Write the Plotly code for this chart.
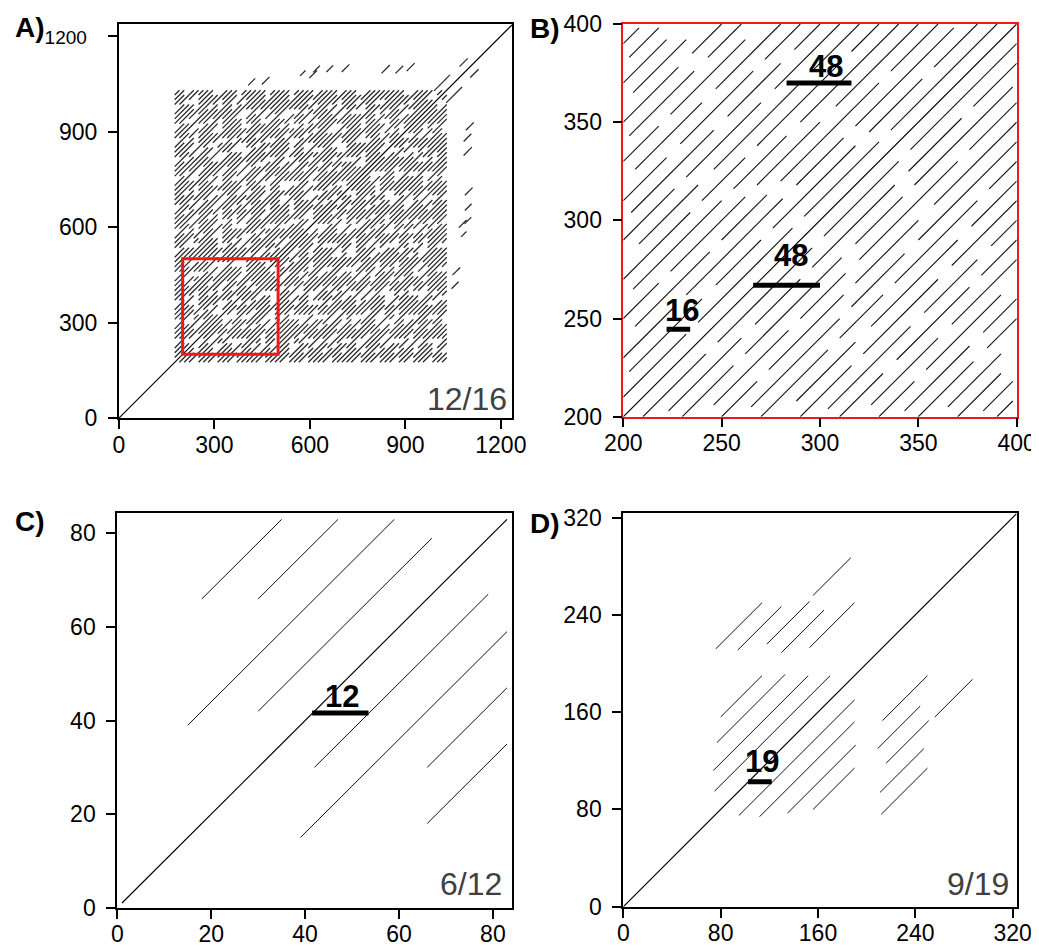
import plotly.graph_objects as go

FONT = "Liberation Sans, Arial, sans-serif"

# ---------------- Panel A : full self dot plot ----------------
A_ticks = [0, 300, 600, 900, 1200]
A_tick_text = ["0", "300", "600", "900", '<span style="font-size:19px">1200&nbsp;&nbsp;</span>']
A_xtick_text = ["0", "300", "600", "900", "1200"]
A_range_x = [0, 1235]
A_range_y = [0, 1238]
A_diag = [0, 1235]
A_block_start = 175
A_cell = 15
A_offsets = [15, 30, 45, 60, 75, 90, 105, 120, 135, 150, 165, 180, 195, 210, 225, 240,
             255, 270, 285, 300, 315, 330, 345, 360, 375, 390, 405, 420, 435, 450, 465,
             480, 495, 510, 525, 540, 555, 570, 585, 600, 615, 630, 645, 660, 675, 690,
             705, 720, 735, 750, 765, 780, 795, 810, 825, 840]
A_rows = [
    "###..|####.|##.##|.###.|#####|##..#|###.#|.####|###..|##.##|####.|#",
    "##.##|###..|.####|####.|##..#|###.#|#.###|.###.|####.|##.##|###..",
    "####.|.###.|##.##|###.#|.####|##..#|####.|###..|#####|.###.|####",
    ".####|##.##|###..|#####|#.###|.###.|##.##|####.|###.#|##..#|###",
    "###.#|.###.|####.|##..#|###..|#####|.####|##.##|###..|####.|##",
    "##..#|####.|.###.|#####|##.##|###..|####.|#.###|.###.|##.##|#",
    "####.|##.##|###..|.####|####.|##..#|#####|.###.|###.#|####.",
    ".###.|#####|##..#|###.#|.###.|####.|##.##|###..|####.|###.",
    "###..|##.##|#####|.###.|####.|##..#|###.#|.####|##.##|###",
    "####.|###..|.####|##.##|#####|###..|####.|.###.|##.##|##",
    "##.##|####.|###..|.####|##..#|#####|.###.|####.|###.#|#",
    ".####|##..#|####.|###..|##.##|.####|###..|#####|##.##",
    "###.#|.###.|##.##|####.|###..|##.##|#####|.###.|####",
    "####.|##.##|.###.|#####|##..#|###.#|.####|###..|###",
    "##..#|####.|###..|.####|##.##|####.|###..|##.##|##",
    "#####|.###.|##.##|###..|####.|.####|##..#|###.#|#",
    "###..|####.|##.##|.###.|#####|##..#|####.|.###.",
    ".####|###..|##.##|####.|.###.|##.##|#####|###.",
    "##.##|#####|.###.|###.#|##..#|####.|###..|###",
    "####.|###..|##.##|.####|###..|##.##|####.|##",
    "###.#|.###.|#####|##..#|####.|.###.|##.##|#",
    "##..#|####.|###..|#####|.###.|##.##|####.",
    ".###.|##.##|####.|###..|#####|##..#|####",
    "####.|###..|.####|##.##|###.#|.###.|###",
    "##.##|#####|###..|.###.|####.|##.##|##",
    "###..|####.|##.##|#####|.###.|###.#|#",
    ".####|##..#|###..|####.|##.##|.###.",
    "####.|.###.|#####|##.##|###..|####",
    "##.##|###..|####.|.####|##..#|###",
    "###.#|####.|.###.|##.##|#####|##",
    "####.|##.##|###..|####.|.###.|#",
    ".###.|#####|##..#|###.#|####.",
    "##.##|####.|.###.|###..|####",
    "####.|###..|##.##|.####|###",
    "###..|.####|####.|##.##|##",
    "#####|##..#|.###.|####.|#",
    "##.##|###..|####.|.###.",
    ".####|##.##|###..|####",
    "####.|.###.|#####|###",
    "##.##|###..|####.|##",
    "###..|####.|##.##|#",
    ".###.|#####|##..#",
    "####.|##.##|###.",
    "##.##|.###.|###",
    "###..|####.|##",
    ".####|##.##|#",
    "###..|####.",
    "##.##|###.",
    ".###.|###",
    "####.|##",
    "###..|#",
    "##.##",
    ".###",
    "##.",
    "##",
    "#",
]
A_extra_x0 = [406, 449, 569, 598, 610, 652, 700, 825, 869, 904, 990, 1070]
A_extra_y0 = [1045, 1048, 1075, 1068, 1086, 1087, 1087, 1083, 1083, 1090, 1028, 1104]
A_extra_len = [22, 24, 17, 24, 21, 21, 24, 26, 24, 25, 50, 26]
A_zoom_box = [200, 500]
A_ratio = "12/16"

# ---------------- Panel B : zoomed region ----------------
B_ticks = [200, 250, 300, 350, 400]
B_range = [200, 400]
B_diag = [200, 400]
B_offsets = [10, 20, 30, 40, 50, 60, 70, 80, 90, 100, 110, 120, 130, 140, 150, 160, 170, 180, 190]
B_segs = [
    [(200, 232), (238, 286), (292, 330), (336, 390)],
    [(203, 240), (247, 270), (276, 318), (325, 352), (358, 380)],
    [(200, 226), (232, 281), (288, 312), (318, 368)],
    [(206, 244), (250, 273), (280, 330), (336, 360)],
    [(200, 218), (224, 262), (268, 300), (308, 350)],
    [(205, 250), (256, 283), (290, 340)],
    [(200, 234), (240, 262), (268, 310), (316, 330)],
    [(208, 238), (246, 290), (297, 320)],
    [(200, 226), (232, 270), (277, 310)],
    [(204, 246), (253, 280), (287, 300)],
    [(200, 222), (229, 266), (272, 290)],
    [(206, 240), (247, 280)],
    [(200, 218), (224, 262)],
    [(203, 236), (243, 260)],
    [(200, 228), (235, 250)],
    [(205, 232)],
    [(200, 222)],
    [(203, 218)],
    [(200, 208)],
]
B_bar_x0 = [222, 266, 283]
B_bar_x1 = [234, 300, 316]
B_bar_y = [244.5, 267, 370]
B_lab_x = [229.6, 285.5, 303.3]
B_lab_y = [254.3, 282.3, 378.5]
B_lab_text = ["16", "48", "48"]

# ---------------- Panel C ----------------
C_ticks = [0, 20, 40, 60, 80]
C_range_x = [0, 84]
C_range_y = [0, 84.3]
C_diag = [1, 83]
C_x0 = [18, 30, 15, 30, 66, 66, 39, 42]
C_y0 = [66, 66, 39, 42, 18, 30, 15, 30]
C_len = [17, 17, 44, 37, 17, 17, 44, 37]
C_bar = [41.5, 53.5, 41.6]
C_lab = [47.9, 45.1, "12"]
C_ratio = "6/12"

# ---------------- Panel D ----------------
D_ticks = [0, 80, 160, 240, 320]
D_range_x = [0, 323.3]
D_range_y = [0, 323.5]
D_diag = [0, 323]
D_x0 = [156, 76, 94, 118, 130, 153, 80, 77, 74, 75,
        95, 112, 135, 156, 213, 209, 216, 211, 212, 256]
D_y0 = [256, 212, 211, 216, 209, 213, 156, 135, 112, 95,
        75, 74, 77, 80, 153, 130, 118, 94, 76, 156]
D_len = [31, 38, 36, 35, 35, 37, 34, 56, 78, 95,
         95, 78, 56, 34, 37, 35, 35, 36, 38, 31]
D_bar = [102.5, 122, 102.8]
D_lab = [114.0, 119.3, "19"]
D_ratio = "9/19"

PANEL_LETTERS = ["A)", "B)", "C)", "D)"]


# ---------------- helpers ----------------
def add_seg(xs, ys, x0, y0, x1, y1):
    xs += [x0, x1, None]
    ys += [y0, y1, None]


def build_A():
    xs, ys = [], []
    for d, row in zip(A_offsets, A_rows):
        s = row.replace("|", "")
        c = 0
        while c < len(s):
            if s[c] == "#":
                c0 = c
                while c < len(s) and s[c] == "#":
                    c += 1
                x0 = A_block_start + A_cell * c0
                x1 = A_block_start + A_cell * c
                add_seg(xs, ys, x0, x0 + d, x1, x1 + d)
                add_seg(xs, ys, x0 + d, x0, x1 + d, x1)
            else:
                c += 1
    for x0, y0, L in zip(A_extra_x0, A_extra_y0, A_extra_len):
        add_seg(xs, ys, x0, y0, x0 + L, y0 + L)
        add_seg(xs, ys, y0, x0, y0 + L, x0 + L)
    return xs, ys


def build_B():
    xs, ys = [], []
    for d, segs in zip(B_offsets, B_segs):
        for x0, x1 in segs:
            add_seg(xs, ys, x0, x0 + d, x1, x1 + d)
            add_seg(xs, ys, x0 + d, x0, x1 + d, x1)
    return xs, ys


def build_list(x0s, y0s, lens):
    xs, ys = [], []
    for x0, y0, L in zip(x0s, y0s, lens):
        add_seg(xs, ys, x0, y0, x0 + L, y0 + L)
    return xs, ys


fig = go.Figure()

ax, ay = build_A()
fig.add_trace(go.Scatter(x=ax, y=ay, mode="lines", line=dict(color="#262626", width=1.25),
                         xaxis="x", yaxis="y", hoverinfo="skip"))
fig.add_trace(go.Scatter(x=A_diag, y=A_diag, mode="lines", line=dict(color="black", width=1.2),
                         xaxis="x", yaxis="y", hoverinfo="skip"))

bx, by = build_B()
fig.add_trace(go.Scatter(x=bx, y=by, mode="lines", line=dict(color="#111", width=1.1),
                         xaxis="x2", yaxis="y2", hoverinfo="skip"))
fig.add_trace(go.Scatter(x=B_diag, y=B_diag, mode="lines", line=dict(color="black", width=1.2),
                         xaxis="x2", yaxis="y2", hoverinfo="skip"))

cx, cy = build_list(C_x0, C_y0, C_len)
fig.add_trace(go.Scatter(x=cx, y=cy, mode="lines", line=dict(color="#111", width=1),
                         xaxis="x3", yaxis="y3", hoverinfo="skip"))
fig.add_trace(go.Scatter(x=C_diag, y=C_diag, mode="lines", line=dict(color="black", width=1.2),
                         xaxis="x3", yaxis="y3", hoverinfo="skip"))

dx, dy = build_list(D_x0, D_y0, D_len)
fig.add_trace(go.Scatter(x=dx, y=dy, mode="lines", line=dict(color="#111", width=1),
                         xaxis="x4", yaxis="y4", hoverinfo="skip"))
fig.add_trace(go.Scatter(x=D_diag, y=D_diag, mode="lines", line=dict(color="black", width=1.2),
                         xaxis="x4", yaxis="y4", hoverinfo="skip"))

shapes = []
annotations = []

# red zoom box in A
shapes.append(dict(type="rect", xref="x", yref="y", x0=A_zoom_box[0], x1=A_zoom_box[1],
                   y0=A_zoom_box[0], y1=A_zoom_box[1], line=dict(color="#f01818", width=3)))

bold_font = dict(family=FONT, size=31, color="black")
# B bars and labels
for x0, x1, y, lx, ly, t in zip(B_bar_x0, B_bar_x1, B_bar_y, B_lab_x, B_lab_y, B_lab_text):
    shapes.append(dict(type="line", xref="x2", yref="y2", x0=x0, x1=x1, y0=y, y1=y,
                       line=dict(color="black", width=5)))
    annotations.append(dict(x=lx, y=ly, xref="x2", yref="y2", text="<b>%s</b>" % t,
                            showarrow=False, xanchor="center", yanchor="middle", font=bold_font))
# C bar
shapes.append(dict(type="line", xref="x3", yref="y3", x0=C_bar[0], x1=C_bar[1], y0=C_bar[2], y1=C_bar[2],
                   line=dict(color="black", width=5)))
annotations.append(dict(x=C_lab[0], y=C_lab[1], xref="x3", yref="y3", text="<b>%s</b>" % C_lab[2],
                        showarrow=False, xanchor="center", yanchor="middle", font=bold_font))
# D bar
shapes.append(dict(type="line", xref="x4", yref="y4", x0=D_bar[0], x1=D_bar[1], y0=D_bar[2], y1=D_bar[2],
                   line=dict(color="black", width=5)))
annotations.append(dict(x=D_lab[0], y=D_lab[1], xref="x4", yref="y4", text="<b>%s</b>" % D_lab[2],
                        showarrow=False, xanchor="center", yanchor="middle", font=bold_font))

# ratio labels
ratio_font = dict(family=FONT, size=32, color="#404040")
for xr, yr, txt, xp, yp in [("x domain", "y domain", A_ratio, 0.992, 0.048),
                             ("x3 domain", "y3 domain", C_ratio, 0.980, 0.060),
                             ("x4 domain", "y4 domain", D_ratio, 0.985, 0.058)]:
    annotations.append(dict(x=xp, y=yp, xref=xr, yref=yr, text=txt, showarrow=False,
                            xanchor="right", yanchor="middle", font=ratio_font))

# The page body has an 8px margin, so the figure starts 8px in; it is made as
# large as the window so nothing near the right/bottom edge is clipped by the svg.
OFF = 8
W, H = 1039, 947


def px_x(p):
    return (p - OFF) / W


def px_y(p):
    return 1 - (p - OFF) / H


# panel letters
letter_font = dict(family=FONT, size=28, color="black")
for txt, lx, ly in zip(PANEL_LETTERS, [13, 528, 13, 528], [27, 28, 521, 523]):
    annotations.append(dict(x=px_x(lx), y=px_y(ly), xref="paper", yref="paper", text="<b>%s</b>" % txt,
                            showarrow=False, xanchor="left", yanchor="middle", font=letter_font))


def axis(domain, rng, ticks, anchor, ticktext=None, linecolor="black", linewidth=2, standoff=0):
    a = dict(domain=domain, range=rng, anchor=anchor, showgrid=False, zeroline=False,
             showline=True, linecolor=linecolor, linewidth=linewidth, mirror=True,
             ticks="outside", ticklen=9, tickwidth=2, tickcolor="black",
             tickmode="array", tickvals=ticks, automargin=False, ticklabelstandoff=standoff,
             ticklabeloverflow="allow",
             tickfont=dict(family=FONT, size=23, color="black"), fixedrange=True)
    if ticktext is not None:
        a["ticktext"] = ticktext
    return a


dA_x = [px_x(119), px_x(512)]
dA_y = [px_y(418), px_y(24)]
dB_x = [px_x(623.3), px_x(1016.7)]
dB_y = [px_y(416.7), px_y(24)]
dC_x = [px_x(117.3), px_x(511.7)]
dC_y = [px_y(907.7), px_y(513.3)]
dD_x = [px_x(623.3), px_x(1016.7)]
dD_y = [px_y(906.7), px_y(513.3)]

XSO = -4
fig.update_layout(
    width=W, height=H, margin=dict(l=0, r=0, t=0, b=0, autoexpand=False),
    paper_bgcolor="white", plot_bgcolor="white", showlegend=False,
    font=dict(family=FONT),
    xaxis=axis(dA_x, A_range_x, A_ticks, "y", A_xtick_text, standoff=XSO),
    yaxis=axis(dA_y, A_range_y, A_ticks, "x", A_tick_text, standoff=6),
    xaxis2=axis(dB_x, B_range, B_ticks, "y2", linecolor="#f01818", linewidth=1.5, standoff=XSO),
    yaxis2=axis(dB_y, B_range, B_ticks, "x2", linecolor="#f01818", linewidth=1.5, standoff=6),
    xaxis3=axis(dC_x, C_range_x, C_ticks, "y3", standoff=XSO),
    yaxis3=axis(dC_y, C_range_y, C_ticks, "x3", standoff=6),
    xaxis4=axis(dD_x, D_range_x, D_ticks, "y4", standoff=XSO),
    yaxis4=axis(dD_y, D_range_y, D_ticks, "x4", standoff=6),
    shapes=shapes, annotations=annotations,
)

fig.write_html("out.html")
